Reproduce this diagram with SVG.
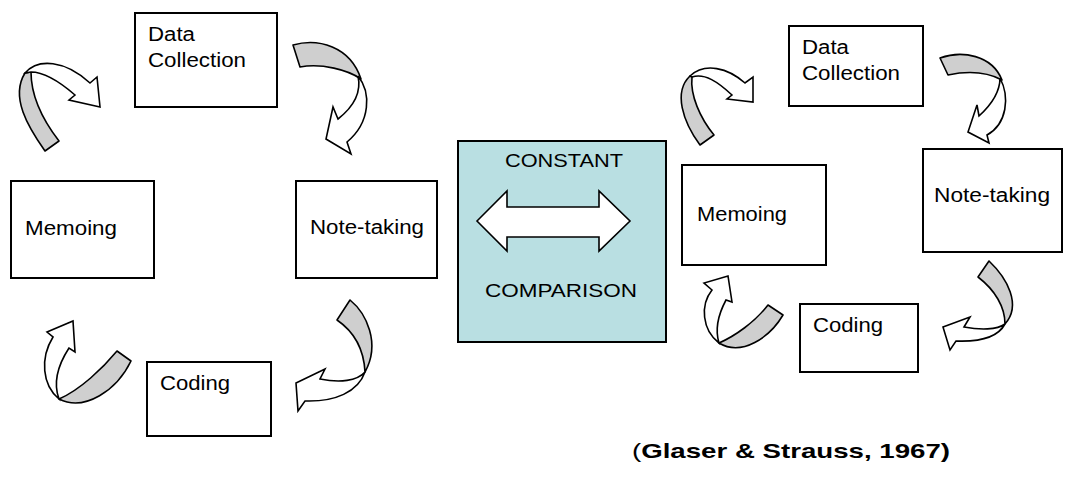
<svg xmlns="http://www.w3.org/2000/svg" width="1070" height="482" viewBox="0 0 1070 482">
<style>
.box{fill:#fff;stroke:#000;stroke-width:2}
.cbox{fill:#b9dfe2;stroke:#000;stroke-width:2}
.t{font-family:"Liberation Sans",Arial,sans-serif;font-size:20px;fill:#000}
.ct{font-family:"Liberation Sans",Arial,sans-serif;font-size:18px;fill:#000}
.g{fill:#cfcfcf;stroke:#000;stroke-width:1.6;stroke-linejoin:round}
.w{fill:#fff;stroke:#000;stroke-width:1.6;stroke-linejoin:miter}
.cite{font-family:"Liberation Sans",Arial,sans-serif;font-size:21px;fill:#000}
</style>
<rect width="1070" height="482" fill="#fff"/>
<!-- Left cycle -->
<g id="l-data">
<rect class="box" x="135" y="13" width="142" height="94"/>
<text class="t" x="148" y="41" textLength="47" lengthAdjust="spacingAndGlyphs">Data</text>
<text class="t" x="148" y="67" textLength="98" lengthAdjust="spacingAndGlyphs">Collection</text>
</g>
<g id="l-memo">
<rect class="box" x="11" y="181" width="143" height="97"/>
<text class="t" x="25" y="235" textLength="92" lengthAdjust="spacingAndGlyphs">Memoing</text>
</g>
<g id="l-note">
<rect class="box" x="296" y="181" width="141" height="97"/>
<text class="t" x="310" y="234" textLength="114" lengthAdjust="spacingAndGlyphs">Note-taking</text>
</g>
<g id="l-coding">
<rect class="box" x="147" y="362" width="124" height="74"/>
<text class="t" x="160" y="390" textLength="70" lengthAdjust="spacingAndGlyphs">Coding</text>
</g>
<!-- Center -->
<g id="constant-comparison">
<rect class="cbox" x="458" y="141" width="208" height="201"/>
<text class="ct" x="505" y="167" textLength="118" lengthAdjust="spacingAndGlyphs">CONSTANT</text>
<path class="w" d="M477,221 L507,191 L507,207 L599,207 L599,191 L630,221 L599,251 L599,237 L507,237 L507,251 Z"/>
<text class="ct" x="485" y="297" textLength="152" lengthAdjust="spacingAndGlyphs">COMPARISON</text>
</g>
<!-- Right cycle -->
<g id="r-data">
<rect class="box" x="789" y="26" width="134" height="80"/>
<text class="t" x="802" y="54" textLength="47" lengthAdjust="spacingAndGlyphs">Data</text>
<text class="t" x="802" y="80" textLength="98" lengthAdjust="spacingAndGlyphs">Collection</text>
</g>
<g id="r-memo">
<rect class="box" x="682" y="165" width="144" height="100"/>
<text class="t" x="697" y="221" textLength="90" lengthAdjust="spacingAndGlyphs">Memoing</text>
</g>
<g id="r-note">
<rect class="box" x="923" y="149" width="139" height="103"/>
<text class="t" x="934" y="202" textLength="116" lengthAdjust="spacingAndGlyphs">Note-taking</text>
</g>
<g id="r-coding">
<rect class="box" x="800" y="304" width="118" height="68"/>
<text class="t" x="813" y="332" textLength="70" lengthAdjust="spacingAndGlyphs">Coding</text>
</g>
<!-- Connectors: curved ribbon arrows -->
<g id="connectors">
<g id="arrow-l1">
<path class="g" d="M45,151 C28,127 10,97 25,73 L31,72 C31,96 42,119 59,141 Z"/>
<path class="w" d="M25,73 C38,58 65,60 90,83 L97,77 L100,107 L69,100 L75,95 C60,82 45,72 31,72 Z"/>
</g>
<g id="arrow-l2">
<path class="g" d="M293,45 C318,38 350,46 361,79 C348,70 322,63 300,67 Z"/>
<path class="w" d="M358,76 C371,92 371,122 347,142 L351,154 L326,139 L333,107 L338,119 C352,108 362,94 358,76 Z"/>
</g>
<g id="arrow-l3">
<path class="g" d="M337,320 L350,300 C366,313 381,343 365,372 C364,352 356,333 337,320 Z"/>
<path class="w" d="M365,372 C358,392 335,402 305,401 L298,411 L296,383 L325,369 L320,379 C340,383 357,381 365,372 Z"/>
</g>
<g id="arrow-l4">
<path class="g" d="M117,351 L131,361 C117,390 85,412 59,399 C80,390 103,368 117,351 Z"/>
<path class="w" d="M59,399 C42,385 40,358 53,337 L47,332 L73,321 L75,352 L69,348 C58,365 53,383 59,399 Z"/>
</g>
<g id="arrow-r1">
<path class="g" d="M700,145 C683,122 673,92 690,76 L692,77 C690,95 700,118 714,135 Z"/>
<path class="w" d="M690,76 C705,62 728,68 745,83 L753,77 L753,102 L727,99 L732,95 C718,82 705,73 692,77 Z"/>
</g>
<g id="arrow-r2">
<path class="g" d="M940,58 C962,50 992,55 1002,80 C987,72 967,71 948,75 Z"/>
<path class="w" d="M1000,78 C1010,97 1007,124 987,135 L989,143 L968,132 L977,105 L979,116 C990,106 1000,93 1000,78 Z"/>
</g>
<g id="arrow-r3">
<path class="g" d="M978,277 L989,261 C1007,278 1022,305 1005,324 C1005,307 995,290 978,277 Z"/>
<path class="w" d="M1005,324 C998,337 980,342 956,341 L950,350 L943,327 L970,317 L964,327 C980,330 997,330 1005,324 Z"/>
</g>
<g id="arrow-r4">
<path class="g" d="M768,305 L783,315 C770,337 742,357 719,343 C735,336 755,322 768,305 Z"/>
<path class="w" d="M719,343 C702,330 700,305 712,290 L704,283 L728,276 L732,302 L726,300 C718,315 715,330 719,343 Z"/>
</g>
</g>
<g id="citation">
<text class="cite" x="632" y="458" textLength="318" lengthAdjust="spacingAndGlyphs">(<tspan font-weight="bold">Glaser &amp; Strauss, 1967)</tspan></text>
</g>
</svg>
